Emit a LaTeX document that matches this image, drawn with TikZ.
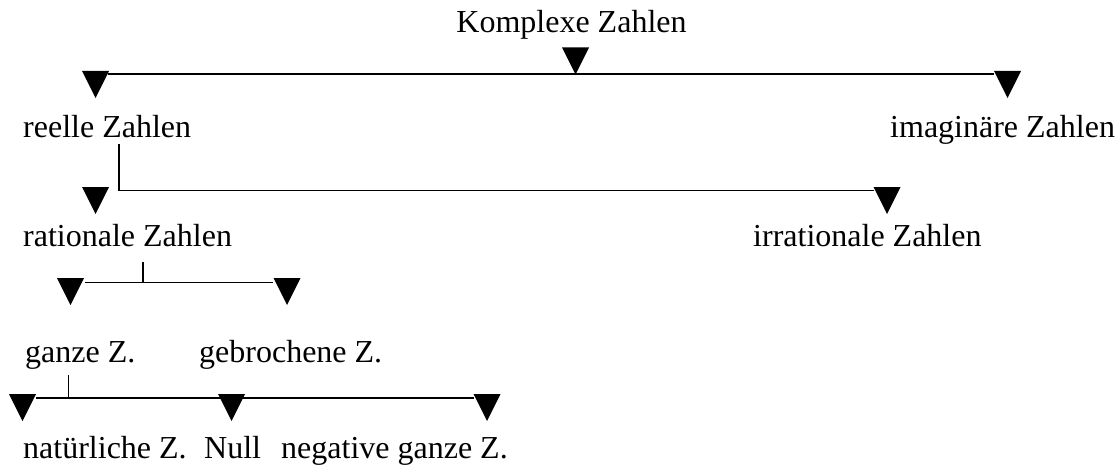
\documentclass[tikz,border=0pt]{standalone}
\usepackage{fontspec}
\setmainfont{Liberation Serif}
\begin{document}
\begin{tikzpicture}[x=1pt,y=-1pt,
  label/.style={inner sep=0pt,font=\fontsize{32}{38}\selectfont},
  conn/.style={line width=1.9pt,line cap=butt},
  downtri/.pic={\fill (-13.5,0) -- (13.5,0) -- (0,27) -- cycle;}]
\useasboundingbox (0,0) rectangle (1116,468);

% labels
\node[label,anchor=base] (komplex) at (571.5,33) {Komplexe Zahlen};
\node[label,anchor=base west] (reell) at (23,138) {reelle Zahlen};
\node[label,anchor=base west] (imag) at (890,138) {imaginäre Zahlen};
\node[label,anchor=base west] (rat) at (23,246) {rationale Zahlen};
\node[label,anchor=base west] (irrat) at (753,246) {irrationale Zahlen};
\node[label,anchor=base west] (ganz) at (25,362) {ganze Z.};
\node[label,anchor=base west] (gebr) at (199,362) {gebrochene Z.};
\node[label,anchor=base west] (nat) at (23,458) {natürliche Z.};
\node[label,anchor=base west] (null) at (204,458) {Null};
\node[label,anchor=base west] (neg) at (281,458) {negative ganze Z.};

% level 1: complex numbers
\coordinate (a1) at (108,74);
\coordinate (b1) at (994,74);
\draw[conn] (a1) -- (b1);
\pic at (575.5,47.5) {downtri};
\pic at (95.5,71) {downtri};
\pic at (1007.5,71) {downtri};

% level 2: real numbers
\coordinate (v2) at (119,190.5);
\coordinate (b2) at (874,190.5);
\draw[conn] (v2 |- 0,144) -- (v2) -- (b2);
\pic at (95.5,187) {downtri};
\pic at (887,187) {downtri};

% level 3: rational numbers
\coordinate (a3) at (85,282.5);
\coordinate (v3) at (143,282.5);
\coordinate (b3) at (273,282.5);
\draw[conn] (v3 |- 0,262) -- (v3);
\draw[conn] (a3) -- (b3);
\pic at (70.5,278) {downtri};
\pic at (287,278) {downtri};

% level 4: integers
\coordinate (a4) at (36,398);
\coordinate (v4) at (68.5,398);
\coordinate (b4) at (474,398);
\draw[conn] (v4 |- 0,375) -- (v4);
\draw[conn] (a4) -- (b4);
\pic at (22.5,394) {downtri};
\pic at (231.5,394) {downtri};
\pic at (487,394) {downtri};
\end{tikzpicture}
\end{document}
